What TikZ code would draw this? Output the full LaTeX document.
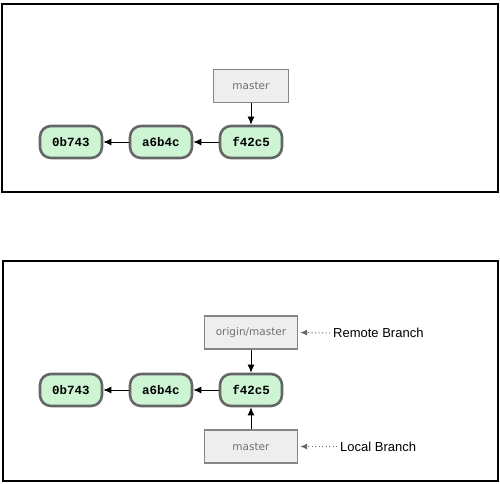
\documentclass[tikz,border=0pt]{standalone}
\usepackage{fontspec}
\setmainfont{Liberation Sans}
\newfontfamily\commitfont{Liberation Mono}
\newfontfamily\branchfont{DejaVu Sans}
\usetikzlibrary{arrows.meta}
\definecolor{commitfill}{HTML}{CDF5D4}
\definecolor{commitline}{HTML}{666666}
\definecolor{branchfill}{HTML}{EEEEEE}
\definecolor{branchline}{HTML}{858585}
\definecolor{branchtext}{HTML}{707070}
\tikzset{
  frame/.style={draw=black, line width=2pt},
  commit/.style={draw=commitline, fill=commitfill, line width=2.6pt, rounded corners=11pt,
    minimum width=62pt, minimum height=32pt, inner sep=0pt,
    font=\commitfont\bfseries\fontsize{12.5}{14}\selectfont},
  branch/.style={draw=branchline, fill=branchfill, line width=1.4pt, inner sep=0pt,
    minimum height=33pt, text=branchtext, font=\branchfont\fontsize{10.5}{12}\selectfont},
  label/.style={font=\fontsize{13}{15}\selectfont, text=black, inner sep=0pt, anchor=west},
  link/.style={draw=black, line width=0.9pt, -{Latex[length=8pt,width=7pt]}},
  hint/.style={draw=commitline, line width=1pt, dash pattern=on 1pt off 2.5pt, -{Latex[length=7pt,width=6pt]}},
}
\begin{document}
\begin{tikzpicture}[x=1pt,y=-1pt]
\useasboundingbox (0,0) rectangle (500,483);
% top panel
\draw[frame] (2,4) rectangle (498,192);
\node[commit] (t0) at (71,142) {0b743};
\node[commit] (t1) at (161,142) {a6b4c};
\node[commit] (t2) at (251,142) {f42c5};
\node[branch, minimum width=75pt] (tm) at (251,86) {master};
\draw[link] (t1) -- (t0);
\draw[link] (t2) -- (t1);
\draw[link] (tm) -- (t2);
% bottom panel
\draw[frame] (3,261) rectangle (498,481);
\node[commit] (b0) at (71,390) {0b743};
\node[commit] (b1) at (161,390) {a6b4c};
\node[commit] (b2) at (251,390) {f42c5};
\node[branch, minimum width=93pt] (bo) at (251,332.5) {origin/master};
\node[branch, minimum width=93pt] (bm) at (251,446.5) {master};
\draw[link] (b1) -- (b0);
\draw[link] (b2) -- (b1);
\draw[link] (bo) -- (b2);
\draw[link] (bm) -- (b2);
\node[label] (rb) at (333,333) {Remote Branch};
\node[label] (lb) at (340,446.5) {Local Branch};
\draw[hint] ([xshift=-3pt]rb.west) -- ([xshift=2pt]bo.east);
\draw[hint] ([xshift=-3pt]lb.west) -- ([xshift=2pt]bm.east);
\end{tikzpicture}
\end{document}
